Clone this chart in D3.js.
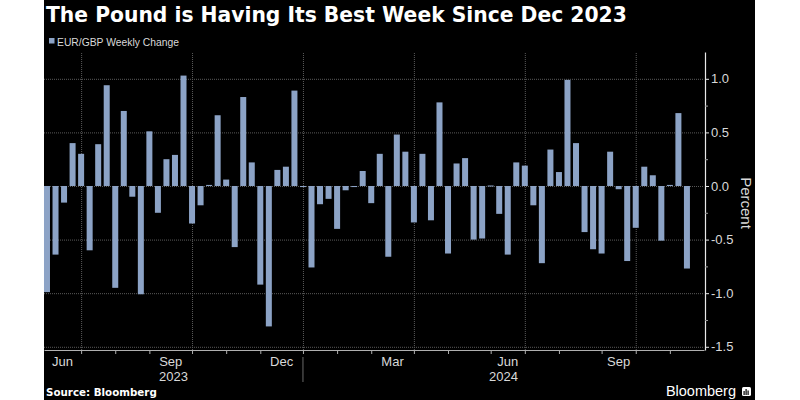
<!DOCTYPE html>
<html>
<head>
<meta charset="utf-8">
<script src="https://cdn.jsdelivr.net/npm/d3@7"></script>
<style>
  html, body { margin: 0; padding: 0; background: #ffffff; }
  svg { display: block; font-family: "Liberation Sans", Arial, sans-serif; }
</style>
</head>
<body>
<svg id="chart" width="800" height="400"></svg>
<script>
// ---- data ----
const titleText = "The Pound is Having Its Best Week Since Dec 2023";
const legendLabel = "EUR/GBP Weekly Change";
const yAxisTitle = "Percent";
const sourceText = "Source: Bloomberg";
const firstWeek = "2023-06-09";   // first weekly bar (Fridays)
const weeklyChange = [
  -0.99, -0.64, -0.155, 0.40, 0.30, -0.60, 0.39, 0.94, -0.95, 0.70,
  -0.10, -1.01, 0.51, -0.25, 0.25, 0.29, 1.03, -0.35, -0.18, 0.01,
  0.66, 0.06, -0.57, 0.83, 0.22, -0.92, -1.31, 0.15, 0.18, 0.89,
  -0.01, -0.76, -0.17, -0.12, -0.40, -0.04, -0.01, 0.14, -0.16, 0.30,
  -0.66, 0.48, 0.32, -0.34, 0.30, -0.32, 0.78, -0.63, 0.21, 0.26,
  -0.50, -0.49, -0.005, -0.26, -0.64, 0.22, 0.19, -0.18, -0.72, 0.34,
  0.13, 0.99, 0.40, -0.43, -0.59, -0.63, 0.32, -0.03, -0.70, -0.39,
  0.18, 0.10, -0.51, 0.01, 0.68, -0.77
];
const yTicks = [-1.5, -1.0, -0.5, 0.0, 0.5, 1.0];
const yMinorTicks = [-1.25, -0.75, -0.25, 0.25, 0.75];
const labelMonths = [2, 5, 8, 11];   // Mar, Jun, Sep, Dec get labels
const gridMonths = [0, 3, 6, 9];     // Jan, Apr, Jul, Oct get gridlines

// ---- setup ----
const svg = d3.select("#chart");
const barColor = "#8ca3c6";
const textColor = "#d9d9d9";
const baseFont = "'Liberation Sans', Arial, sans-serif";
const wideFont = "'DejaVu Sans', Verdana, sans-serif";

const parse = d3.timeParse("%Y-%m-%d");
const start = parse(firstWeek);
const dates = weeklyChange.map((_, i) => d3.timeWeek.offset(start, i));
const data = weeklyChange.map((v, i) => ({ i, v, date: dates[i] }));

// panel
svg.append("rect").attr("x", 44).attr("y", 0).attr("width", 711).attr("height", 400).attr("fill", "#000");

const plotLeft = 44, plotRight = 704, plotTop = 52, plotBottom = 350;
const xDomain = [-0.35, 77];
const x = d3.scaleLinear().domain(xDomain).range([plotLeft, plotRight]);
const y = d3.scaleLinear().domain([-1.53, 1.25]).range([plotBottom, plotTop]);

// month tick indices (first bar of each month)
const monthTicks = [];
for (let i = 1; i < dates.length; i++) {
  if (dates[i].getMonth() !== dates[i - 1].getMonth()) monthTicks.push(i);
}
const gridTicks = monthTicks.filter(i => gridMonths.includes(dates[i].getMonth()));

// horizontal gridlines
svg.append("g")
  .attr("transform", `translate(${plotLeft},0)`)
  .call(d3.axisRight(y).tickValues(yTicks).tickSize(plotRight - plotLeft).tickFormat(""))
  .call(g => g.select(".domain").remove())
  .call(g => g.selectAll("line").attr("stroke", "#5a5a5a").attr("stroke-dasharray", "1,1"));

// vertical gridlines
svg.append("g")
  .attr("transform", `translate(0,${plotBottom})`)
  .call(d3.axisTop(x).tickValues(gridTicks).tickSize(plotBottom - plotTop).tickFormat(""))
  .call(g => g.select(".domain").remove())
  .call(g => g.selectAll("line").attr("stroke", "#5a5a5a").attr("stroke-dasharray", "1,1"));

// bars
const barW = 6;
svg.append("g").selectAll("rect").data(data).join("rect")
  .attr("x", d => x(d.i) - barW / 2)
  .attr("width", barW)
  .attr("y", d => Math.min(y(d.v), y(0)) - (Math.abs(y(d.v) - y(0)) < 1 ? 0.5 : 0))
  .attr("height", d => Math.max(1, Math.abs(y(d.v) - y(0))))
  .attr("fill", barColor);

// x axis
const xAxis = svg.append("g")
  .attr("transform", `translate(0,${plotBottom})`)
  .call(d3.axisBottom(x).tickValues(monthTicks).tickSize(4).tickFormat("").tickSizeOuter(0));
xAxis.select(".domain").attr("stroke", "#b0b0b0").attr("stroke-width", 1.2);
xAxis.selectAll(".tick line").attr("stroke", "#b0b0b0");

// month labels
const bounds = [xDomain[0], ...monthTicks, xDomain[1]];
const monthName = d3.timeFormat("%b");
for (let k = 0; k < bounds.length - 1; k++) {
  const idx = k === 0 ? 0 : monthTicks[k - 1];
  const m = dates[Math.min(idx, dates.length - 1)];
  if (!labelMonths.includes(m.getMonth())) continue;
  svg.append("text")
    .attr("x", x((bounds[k] + bounds[k + 1]) / 2))
    .attr("y", 366)
    .attr("text-anchor", "middle")
    .attr("fill", textColor)
    .style("font-family", baseFont)
    .style("font-size", "13px")
    .text(monthName(m));
}

// year labels and separators
const yearStarts = monthTicks.filter(i => dates[i].getMonth() === 0);
const yBounds = [xDomain[0], ...yearStarts, xDomain[1]];
for (let k = 0; k < yBounds.length - 1; k++) {
  const idx = k === 0 ? 0 : yearStarts[k - 1];
  svg.append("text")
    .attr("x", x((yBounds[k] + yBounds[k + 1]) / 2))
    .attr("y", 381)
    .attr("text-anchor", "middle")
    .attr("fill", textColor)
    .style("font-family", baseFont)
    .style("font-size", "13px")
    .text(dates[idx].getFullYear());
}
svg.append("g").selectAll("line").data(yearStarts).join("line")
  .attr("x1", d => x(d)).attr("x2", d => x(d))
  .attr("y1", 357).attr("y2", 382)
  .attr("stroke", "#6a6a6a");

// y axis (right)
const yAxis = svg.append("g")
  .attr("transform", `translate(${plotRight + 1},0)`)
  .call(d3.axisRight(y).tickValues(yTicks).tickSize(4).tickPadding(2).tickSizeOuter(0)
    .tickFormat(d => d3.format(".1f")(d).replace("−", "-")));
yAxis.select(".domain").attr("stroke", "#e8e8e8").attr("stroke-width", 1.2);
yAxis.selectAll(".tick line").attr("stroke", "#e8e8e8");
yAxis.selectAll(".tick text").attr("fill", textColor)
  .style("font-size", "13px").style("font-family", baseFont);
svg.append("g")
  .attr("transform", `translate(${plotRight + 1},0)`)
  .call(d3.axisRight(y).tickValues(yMinorTicks).tickSize(3).tickFormat(""))
  .call(g => g.select(".domain").remove())
  .call(g => g.selectAll("line").attr("stroke", "#9a9a9a"));

svg.append("text")
  .attr("transform", `translate(741,203) rotate(90)`)
  .attr("text-anchor", "middle")
  .attr("fill", textColor)
  .style("font-family", baseFont)
  .style("font-size", "15px")
  .text(yAxisTitle);

// title
const title = svg.append("text")
  .attr("x", 46).attr("y", 22)
  .attr("fill", "#ffffff")
  .style("font-family", wideFont)
  .style("font-weight", "bold")
  .style("font-size", "20px")
  .text(titleText);
const tw = title.node().getComputedTextLength();
title.style("font-size", (20 * 581 / tw) + "px");

// legend
svg.append("rect").attr("x", 49).attr("y", 38).attr("width", 5.5).attr("height", 5.5).attr("fill", barColor);
const leg = svg.append("text")
  .attr("x", 57).attr("y", 45.5)
  .attr("fill", textColor)
  .style("font-family", baseFont)
  .style("font-size", "11px")
  .text(legendLabel);
const lw = leg.node().getComputedTextLength();
leg.style("font-size", (11 * 122 / lw) + "px");

// source
const src = svg.append("text")
  .attr("x", 46).attr("y", 396)
  .attr("fill", "#ffffff")
  .style("font-family", wideFont)
  .style("font-weight", "bold")
  .style("font-size", "10px")
  .text(sourceText);
const sw = src.node().getComputedTextLength();
src.style("font-size", (10 * 111 / sw) + "px");

// Bloomberg logo
svg.append("text")
  .attr("x", 736).attr("y", 396)
  .attr("text-anchor", "end")
  .attr("fill", "#ffffff")
  .style("font-family", baseFont)
  .style("font-size", "14.5px")
  .text("Bloomberg");
const logo = svg.append("g").attr("transform", "translate(742,387)");
logo.append("rect").attr("width", 9).attr("height", 9).attr("rx", 1.5).attr("fill", "#ffffff");
[[1.5, 4], [3.5, 2], [5.5, 3.5]].forEach(([bx, by]) => {
  logo.append("rect").attr("x", bx).attr("y", by).attr("width", 1.2).attr("height", 8 - by).attr("fill", "#000");
});
</script>
</body>
</html>
